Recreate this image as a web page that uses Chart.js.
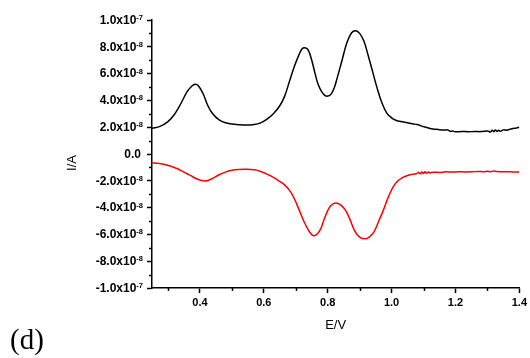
<!DOCTYPE html>
<html>
<head>
<meta charset="utf-8">
<script src="https://cdn.jsdelivr.net/npm/chart.js@4/dist/chart.umd.min.js"></script>
<style>
	html, body { margin: 0; padding: 0; background: #fff; }
	#wrap { width: 530px; height: 358px; }
</style>
</head>
<body>
<div id="wrap"><canvas id="cv" width="530" height="358"></canvas></div>
<script>
// current values are in units of 1e-8 A, potentials in V

// oxidation sweep (black)
const anodicE = [
	0.25, 0.275, 0.30, 0.32, 0.34, 0.36, 0.375, 0.385, 0.395, 0.41, 0.425, 0.44, 0.46, 0.48,
	0.50, 0.52, 0.545, 0.57, 0.59, 0.61, 0.63, 0.65, 0.665, 0.68, 0.695, 0.71, 0.72, 0.728,
	0.738, 0.75, 0.76, 0.77, 0.78, 0.79, 0.80, 0.81, 0.82, 0.83, 0.845, 0.86, 0.875, 0.888,
	0.90, 0.913, 0.925, 0.94, 0.955, 0.97, 0.985, 1.00, 1.015, 1.03, 1.05, 1.065, 1.08,
	1.095, 1.11, 1.125, 1.14, 1.155, 1.17, 1.175, 1.185, 1.19, 1.20, 1.22, 1.24, 1.26, 1.28,
	1.30, 1.31, 1.315, 1.32, 1.325, 1.33, 1.335, 1.34, 1.35, 1.36, 1.37, 1.38, 1.39, 1.40
];
const anodicI = [
	1.92, 2.06, 2.42, 2.95, 3.75, 4.65, 5.08, 5.2, 5.1, 4.5, 3.6, 3.0, 2.55, 2.33,
	2.24, 2.19, 2.16, 2.2, 2.32, 2.6, 3.0, 3.6, 4.3, 5.4, 6.5, 7.4, 7.85, 7.93,
	7.8, 7.0, 6.05, 5.2, 4.7, 4.4, 4.32, 4.45, 4.9, 5.7, 7.0, 8.3, 9.05, 9.2,
	9.0, 8.45, 7.5, 6.2, 4.9, 3.8, 3.05, 2.7, 2.5, 2.42, 2.33, 2.25, 2.2,
	2.08, 1.98, 1.88, 1.84, 1.8, 1.79, 1.8, 1.68, 1.72, 1.66, 1.68, 1.66, 1.68, 1.67,
	1.72, 1.65, 1.78, 1.66, 1.8, 1.68, 1.78, 1.7, 1.8, 1.78, 1.84, 1.9, 1.93, 2.0
];

// reduction sweep (red)
const cathodicE = [
	0.25, 0.27, 0.29, 0.31, 0.33, 0.35, 0.37, 0.39, 0.41, 0.425, 0.44, 0.46, 0.48, 0.50,
	0.52, 0.545, 0.57, 0.59, 0.61, 0.63, 0.65, 0.665, 0.68, 0.695, 0.71, 0.725, 0.74, 0.75,
	0.758, 0.768, 0.778, 0.79, 0.805, 0.818, 0.83, 0.843, 0.856, 0.87, 0.885, 0.90, 0.917,
	0.93, 0.944, 0.96, 0.975, 0.99, 1.005, 1.02, 1.035, 1.05, 1.065, 1.08, 1.085, 1.09,
	1.095, 1.10, 1.105, 1.11, 1.115, 1.12, 1.13, 1.15, 1.17, 1.19, 1.21, 1.23, 1.25, 1.27,
	1.29, 1.30, 1.31, 1.32, 1.33, 1.35, 1.37, 1.39, 1.40
];
const cathodicI = [
	-0.65, -0.7, -0.78, -0.92, -1.1, -1.35, -1.6, -1.85, -2.0, -1.97, -1.82, -1.55, -1.35, -1.22,
	-1.16, -1.14, -1.18, -1.3, -1.5, -1.75, -2.05, -2.3, -2.7, -3.3, -4.15, -5.0, -5.7, -6.02,
	-6.1, -5.95, -5.6, -4.8, -4.0, -3.7, -3.68, -3.85, -4.2, -4.9, -5.75, -6.2, -6.33,
	-6.2, -5.85, -5.0, -4.15, -3.2, -2.45, -2.0, -1.75, -1.6, -1.52, -1.46, -1.37, -1.48,
	-1.34, -1.46, -1.33, -1.44, -1.34, -1.41, -1.36, -1.38, -1.33, -1.35, -1.32, -1.34, -1.33, -1.3,
	-1.32, -1.28, -1.33, -1.27, -1.31, -1.33, -1.32, -1.35, -1.34
];

const xTickValues = [0.4, 0.6, 0.8, 1.0, 1.2, 1.4];
const xMinorValues = [0.3, 0.5, 0.7, 0.9, 1.1, 1.3];
const yTickValues = [10, 8, 6, 4, 2, 0, -2, -4, -6, -8, -10];
const yMinorValues = [9, 7, 5, 3, 1, -1, -3, -5, -7, -9];
// mantissa / exponent pairs for the y tick labels
const yTickLabels = [
	['1.0x10', '-7'], ['8.0x10', '-8'], ['6.0x10', '-8'], ['4.0x10', '-8'], ['2.0x10', '-8'],
	['0.0', ''],
	['-2.0x10', '-8'], ['-4.0x10', '-8'], ['-6.0x10', '-8'], ['-8.0x10', '-8'], ['-1.0x10', '-7']
];

const xTitle = 'E/V';
const yTitle = 'I/A';
const panelTag = '(d)';

const toPoints = (xs, ys) => xs.map((x, i) => ({ x: x, y: ys[i] }));

// minor ticks, y labels with exponents and the axis titles
const axisDecor = {
	id: 'axisDecor',
	afterDraw(chart) {
		const ctx = chart.ctx;
		const xs = chart.scales.x;
		const ys = chart.scales.y;
		const left = chart.chartArea.left;
		const bottom = chart.chartArea.bottom;

		ctx.save();
		ctx.strokeStyle = '#000';
		ctx.lineWidth = 1.5;
		ctx.beginPath();
		yMinorValues.forEach(v => {
			const py = Math.round(ys.getPixelForValue(v)) + 0.5;
			ctx.moveTo(left - 3, py);
			ctx.lineTo(left, py);
		});
		xMinorValues.forEach(v => {
			const px = Math.round(xs.getPixelForValue(v)) + 0.5;
			ctx.moveTo(px, bottom);
			ctx.lineTo(px, bottom + 3);
		});
		ctx.stroke();

		ctx.fillStyle = '#000';
		yTickValues.forEach((v, i) => {
			const py = ys.getPixelForValue(v);
			const [mant, exp] = yTickLabels[i];
			ctx.font = 'bold 7.5px "Liberation Sans", Arial, sans-serif';
			const ew = exp ? ctx.measureText(exp).width : 0;
			const right = exp ? left - 9 : left - 11;
			if (exp) {
				ctx.textAlign = 'left';
				ctx.textBaseline = 'alphabetic';
				ctx.fillText(exp, right - ew, py);
			}
			ctx.font = 'bold 12px "Liberation Sans", Arial, sans-serif';
			ctx.textAlign = 'right';
			ctx.textBaseline = 'middle';
			ctx.fillText(mant, right - ew, py + 0.5);
		});

		ctx.font = '13px "Liberation Sans", Arial, sans-serif';
		ctx.textAlign = 'center';
		ctx.textBaseline = 'middle';
		ctx.fillText(xTitle, (chart.chartArea.left + chart.chartArea.right) / 2, 325);

		ctx.save();
		ctx.translate(72, 163);
		ctx.rotate(-Math.PI / 2);
		ctx.fillText(yTitle, 0, 0);
		ctx.restore();

		ctx.font = '29px "Liberation Serif", "Times New Roman", serif';
		ctx.textAlign = 'left';
		ctx.textBaseline = 'alphabetic';
		ctx.fillText(panelTag, 10, 349);
		ctx.restore();
	}
};

const axisStyle = {
	grid: {
		display: true,
		drawOnChartArea: false,
		drawTicks: true,
		tickLength: 5,
		tickColor: '#000',
		tickWidth: 1.5
	},
	border: { display: true, color: '#000', width: 1.5 }
};

new Chart(document.getElementById('cv'), {
	type: 'line',
	data: {
		datasets: [
			{
				data: toPoints(anodicE, anodicI),
				borderColor: '#000000',
				borderWidth: 1.5,
				pointRadius: 0,
				fill: false,
				tension: 0.4
			},
			{
				data: toPoints(cathodicE, cathodicI),
				borderColor: '#ff0000',
				borderWidth: 1.5,
				pointRadius: 0,
				fill: false,
				tension: 0.4
			}
		]
	},
	options: {
		responsive: false,
		animation: false,
		devicePixelRatio: 1,
		layout: { padding: { left: 0, top: 20, right: 10, bottom: 0 } },
		plugins: {
			legend: { display: false },
			tooltip: { enabled: false }
		},
		scales: {
			x: {
				type: 'linear',
				min: 0.25,
				max: 1.4,
				...axisStyle,
				afterBuildTicks: (scale) => { scale.ticks = xTickValues.map(v => ({ value: v })); },
				afterFit: (scale) => { scale.height = 70; },
				ticks: {
					padding: 3,
					color: '#000',
					font: { family: '"Liberation Sans", Arial, sans-serif', size: 11, weight: 'bold' },
					callback: (v) => Number(v).toFixed(1)
				}
			},
			y: {
				type: 'linear',
				min: -10,
				max: 10,
				...axisStyle,
				afterBuildTicks: (scale) => { scale.ticks = yTickValues.map(v => ({ value: v })); },
				afterFit: (scale) => { scale.width = 152; },
				ticks: { callback: () => '' }
			}
		}
	},
	plugins: [axisDecor]
});
</script>
</body>
</html>
